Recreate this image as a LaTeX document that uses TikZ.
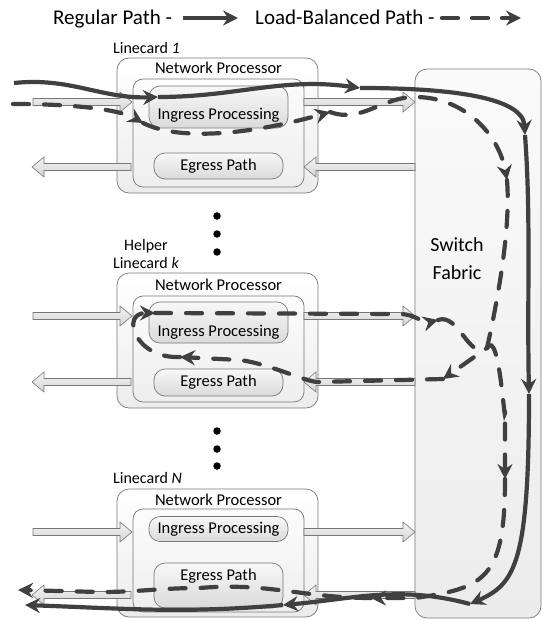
\documentclass[tikz,border=0pt]{standalone}
\usepackage{fontspec}
\setmainfont{Carlito}
\usetikzlibrary{arrows.meta}
\definecolor{pathc}{RGB}{64,64,64}
\definecolor{edgec}{RGB}{120,120,120}
\definecolor{boxtop}{RGB}{255,255,255}
\definecolor{boxbot}{RGB}{236,236,236}
\definecolor{innertop}{RGB}{252,252,252}
\definecolor{innerbot}{RGB}{238,238,238}
\definecolor{proctop}{RGB}{248,248,248}
\definecolor{procbot}{RGB}{218,218,218}
\definecolor{fabtop}{RGB}{250,250,250}
\definecolor{fabbot}{RGB}{236,236,236}
\definecolor{arrtop}{RGB}{244,244,244}
\definecolor{arrbot}{RGB}{212,212,212}
\tikzset{
  obox/.style={draw=edgec, line width=0.7pt, rounded corners=12pt, top color=boxtop, bottom color=boxbot, inner sep=0pt},
  ibox/.style={draw=edgec, line width=0.7pt, rounded corners=10pt, top color=innertop, bottom color=innerbot, inner sep=0pt},
  pbox/.style={draw=edgec, line width=0.7pt, rounded corners=11pt, top color=proctop, bottom color=procbot, inner sep=0pt},
  fab/.style={draw=edgec, line width=0.7pt, rounded corners=12pt, top color=fabtop, bottom color=fabbot, inner sep=0pt},
  btxt/.style={font=\fontsize{16.5}{19}\selectfont, inner sep=0pt},
  ltxt/.style={font=\fontsize{16}{19}\selectfont, inner sep=0pt},
  legtxt/.style={font=\fontsize{21}{25}\selectfont, inner sep=0pt},
  garr/.style={draw=edgec, line width=0.6pt, top color=arrtop, bottom color=arrbot},
  reg/.style={draw=pathc, line width=4.2pt, -{Stealth[length=15pt,width=15pt,inset=5pt]}},
  lb/.style={draw=pathc, line width=4.2pt, line cap=round, dash pattern=on 16pt off 15pt, -{Stealth[length=15pt,width=15pt,inset=5pt]}},
  dotc/.style={fill=black, circle, inner sep=0pt, minimum size=7.5pt}
}
\newcommand\garrow[4]{%
  \path[garr] (#1,{#3-3.5}) -- ({#2-(#4)},{#3-3.5}) -- ({#2-(#4)},{#3-10}) -- (#2,#3) -- ({#2-(#4)},{#3+10}) -- ({#2-(#4)},{#3+3.5}) -- (#1,{#3+3.5}) -- cycle;}
\begin{document}
\begin{tikzpicture}[x=1pt,y=-1pt]
\useasboundingbox (0,0) rectangle (542,620);

% legend
\node[legtxt, anchor=base west] (leg1) at (53,25) {Regular Path -};
\coordinate (la0) at (183,18);
\coordinate (la1) at (238,18);
\draw[reg] (la0) -- (la1);
\node[legtxt, anchor=base west] (leg2) at (255,25) {Load-Balanced Path -};
\coordinate (lb0) at (442,18);
\coordinate (lb1) at (521,18);
\draw[lb, dash pattern=on 16pt off 14pt] (lb0) -- (lb1);

% switch fabric
\node[fab, minimum width=126pt, minimum height=549pt] (fabric) at (478,343.5) {};
\node[font=\fontsize{20}{28}\selectfont, align=center, inner sep=0pt] (sftxt) at (457,259) {Switch\\Fabric};

% Linecard 1
\node[ltxt, anchor=west] (lab1) at (113,48) {Linecard \textit{1}};
\node[obox, minimum width=201pt, minimum height=135pt] (lc1) at (217.5,125.5) {};
\node[btxt] (np1) at (218.5,68) {Network Processor};
\node[ibox, minimum width=171pt, minimum height=108pt] (in1) at (218.5,133) {};
\node[pbox, minimum width=139pt, minimum height=42pt] (ing1) at (218.5,107) {};
\node[btxt] (ingt1) at (218.5,115) {Ingress Processing};
\node[pbox, minimum width=129pt, minimum height=26pt] (eg1) at (218.5,166) {};
\node[btxt] (egt1) at (218.5,166) {Egress Path};
\garrow{33}{132}{102}{12}
\garrow{304}{415}{102}{12}
\garrow{415}{304}{167}{-12}
\garrow{131}{32}{167}{-12}

% dots
\node[dotc] (dt1) at (217,216) {};
\node[dotc] (dt2) at (217,234) {};
\node[dotc] (dt3) at (217,252) {};

% Helper linecard k
\node[ltxt, align=center, font=\fontsize{16}{18.5}\selectfont] (labk) at (146,254) {Helper\\Linecard \textit{k}};
\node[obox, minimum width=201pt, minimum height=135pt] (lck) at (217.5,340.5) {};
\node[btxt] (npk) at (218.5,285) {Network Processor};
\node[ibox, minimum width=171pt, minimum height=106pt] (ink) at (218.5,349) {};
\node[pbox, minimum width=139pt, minimum height=41pt] (ingk) at (218.5,322.5) {};
\node[btxt] (ingtk) at (218.5,332) {Ingress Processing};
\node[pbox, minimum width=129pt, minimum height=27pt] (egk) at (218.5,382.5) {};
\node[btxt] (egtk) at (218.5,382.5) {Egress Path};
\garrow{33}{132}{316}{12}
\garrow{304}{415}{316}{12}
\garrow{415}{304}{382}{-12}
\garrow{131}{32}{382}{-12}

% dots
\node[dotc] (dt4) at (217,431) {};
\node[dotc] (dt5) at (217,449) {};
\node[dotc] (dt6) at (217,466) {};

% Linecard N
\node[ltxt, anchor=west] (labn) at (113,478) {Linecard \textit{N}};
\node[obox, minimum width=201pt, minimum height=128pt] (lcn) at (217.5,553) {};
\node[btxt] (npn) at (218.5,500) {Network Processor};
\node[ibox, minimum width=171pt, minimum height=103pt] (inn) at (218.5,560.5) {};
\node[pbox, minimum width=139pt, minimum height=25pt] (ingn) at (218.5,529) {};
\node[btxt] (ingtn) at (218.5,529) {Ingress Processing};
\node[pbox, minimum width=129pt, minimum height=45pt] (egn) at (218.5,585.5) {};
\node[btxt] (egtn) at (218.5,576) {Egress Path};
\garrow{33}{132}{532}{12}
\garrow{304}{415}{532}{12}
\garrow{415}{304}{595}{-12}
\garrow{131}{32}{595}{-12}

% load-balanced path
\coordinate (d0) at (13,104);
\coordinate (d1) at (143,123);
\coordinate (d2) at (330,112);
\coordinate (d2a) at (415,97);
\coordinate (d3) at (507,180);
\coordinate (dk) at (487,348);
\coordinate (d4) at (443,379);
\coordinate (d4a) at (318,382);
\coordinate (d4b) at (240,360);
\coordinate (d5) at (180,357);
\coordinate (d6) at (155,313);
\coordinate (d6a) at (400,314);
\coordinate (d7) at (438,320);
\coordinate (d7a) at (505,410);
\coordinate (d8) at (505,479);
\coordinate (d8a) at (415,598);
\coordinate (d9) at (371,598);
\coordinate (d9a) at (200,588);
\coordinate (d9b) at (100,592);
\coordinate (d10) at (18,590);
\draw[lb] (d0) .. controls +(70,0) and +(-20,-12) .. (d1);
\draw[lb] (d1) .. controls +(40,20) and +(-70,20) .. (d2);
\draw[lb] (d2) to[out=-20,in=180] (d2a) .. controls +(50,0) and +(-8,-45) .. (d3);
\draw[lb] (d3) .. controls +(4,50) and +(10,-45) .. (dk) -- (d4);
\draw[lb] (d4) -- (d4a) .. controls +(-12,0) and +(30,4) .. (d4b) -- (d5);
\draw[lb] (d5) .. controls +(-45,2) and +(-35,0) .. (d6);
\draw[lb] (d6) -- (d6a) to[out=0,in=195] (d7);
\draw[lb] (d7) to[out=20,in=215] (dk) to[out=60,in=-90] (d7a) -- (d8);
\draw[lb] (d8) .. controls +(0,100) and +(70,-10) .. (d8a) -- (d9);
\draw[lb] (d9) to[out=180,in=5] (d9a) to[out=180,in=0] (d9b) -- (d10);

% regular path
\coordinate (s0) at (14,83);
\coordinate (s1) at (158,97);
\coordinate (s2) at (360,88);
\coordinate (s3) at (525,135);
\coordinate (s4) at (529,394);
\coordinate (s5) at (470,604);
\coordinate (s6) at (283,605);
\coordinate (s7) at (25,605);
\draw[reg] (s0) to[out=6,in=182] (s1);
\draw[reg] (s1) to[out=0,in=172] (s2);
\draw[reg] (s2) .. controls +(90,0) and +(-2,-38) .. (s3);
\draw[reg] (s3) .. controls +(6,80) and +(-2,-100) .. (s4);
\draw[reg] (s4) .. controls +(0,170) and +(45,-20) .. (s5);
\draw[reg] (s5) to[out=165,in=5] (s6);
\draw[reg] (s6) to[out=185,in=-2] (s7);
\end{tikzpicture}
\end{document}
